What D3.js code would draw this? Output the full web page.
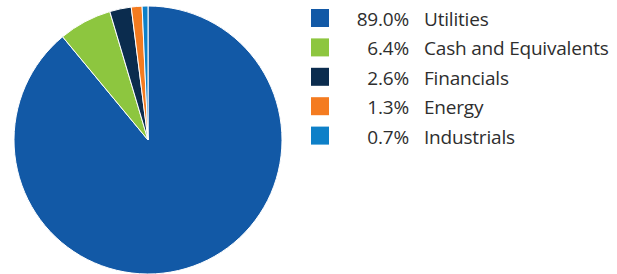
<!DOCTYPE html>
<html lang="en">
<head>
  <meta charset="UTF-8">
  <title>Sector allocation</title>
  <style>
    body { margin: 0; background: #fff; }
    text { font-family: "Open Sans", "Noto Sans", sans-serif; fill: #2e2e2e; letter-spacing: -0.2px; }
  </style>
</head>
<body>
  <svg width="617" height="274"></svg>

  <script src="https://d3js.org/d3.v7.min.js"></script>
  <script>
    const sectors = ['Utilities', 'Cash and Equivalents', 'Financials', 'Energy', 'Industrials'];
    const weights = [89.0, 6.4, 2.6, 1.3, 0.7];
    const colors = ['#1259a6', '#8dc63f', '#0b2c4e', '#f47b20', '#0e80c8'];

    const data = sectors.map((s, i) => ({ name: s, value: weights[i], color: colors[i] }));

    const svg = d3.select('svg');

    // pie
    const cx = 148, cy = 140, radius = 134;
    const pie = d3.pie().sort(null).value(d => d.value);
    const arc = d3.arc().innerRadius(0).outerRadius(radius);

    svg.append('g')
      .attr('transform', `translate(${cx},${cy})`)
      .selectAll('path')
      .data(pie(data))
      .enter()
      .append('path')
      .attr('d', arc)
      .style('fill', d => d.data.color)
      .style('stroke', '#fff')
      .style('stroke-width', 1);

    // legend
    const y = d3.scaleBand().domain(sectors).range([3, 150]).paddingInner(0);

    const rows = svg.append('g')
      .selectAll('g')
      .data(data)
      .enter()
      .append('g')
      .attr('transform', d => `translate(0,${y(d.name)})`);

    rows.append('rect')
      .attr('x', 311)
      .attr('y', 6)
      .attr('width', 18)
      .attr('height', 18)
      .style('fill', d => d.color);

    rows.append('text')
      .attr('x', 409)
      .attr('y', 23)
      .attr('text-anchor', 'end')
      .style('font-size', '19px')
      .text(d => d.value.toFixed(1) + '%');

    rows.append('text')
      .attr('x', 424)
      .attr('y', 23)
      .style('font-size', '19px')
      .text(d => d.name);
  </script>
</body>
</html>
